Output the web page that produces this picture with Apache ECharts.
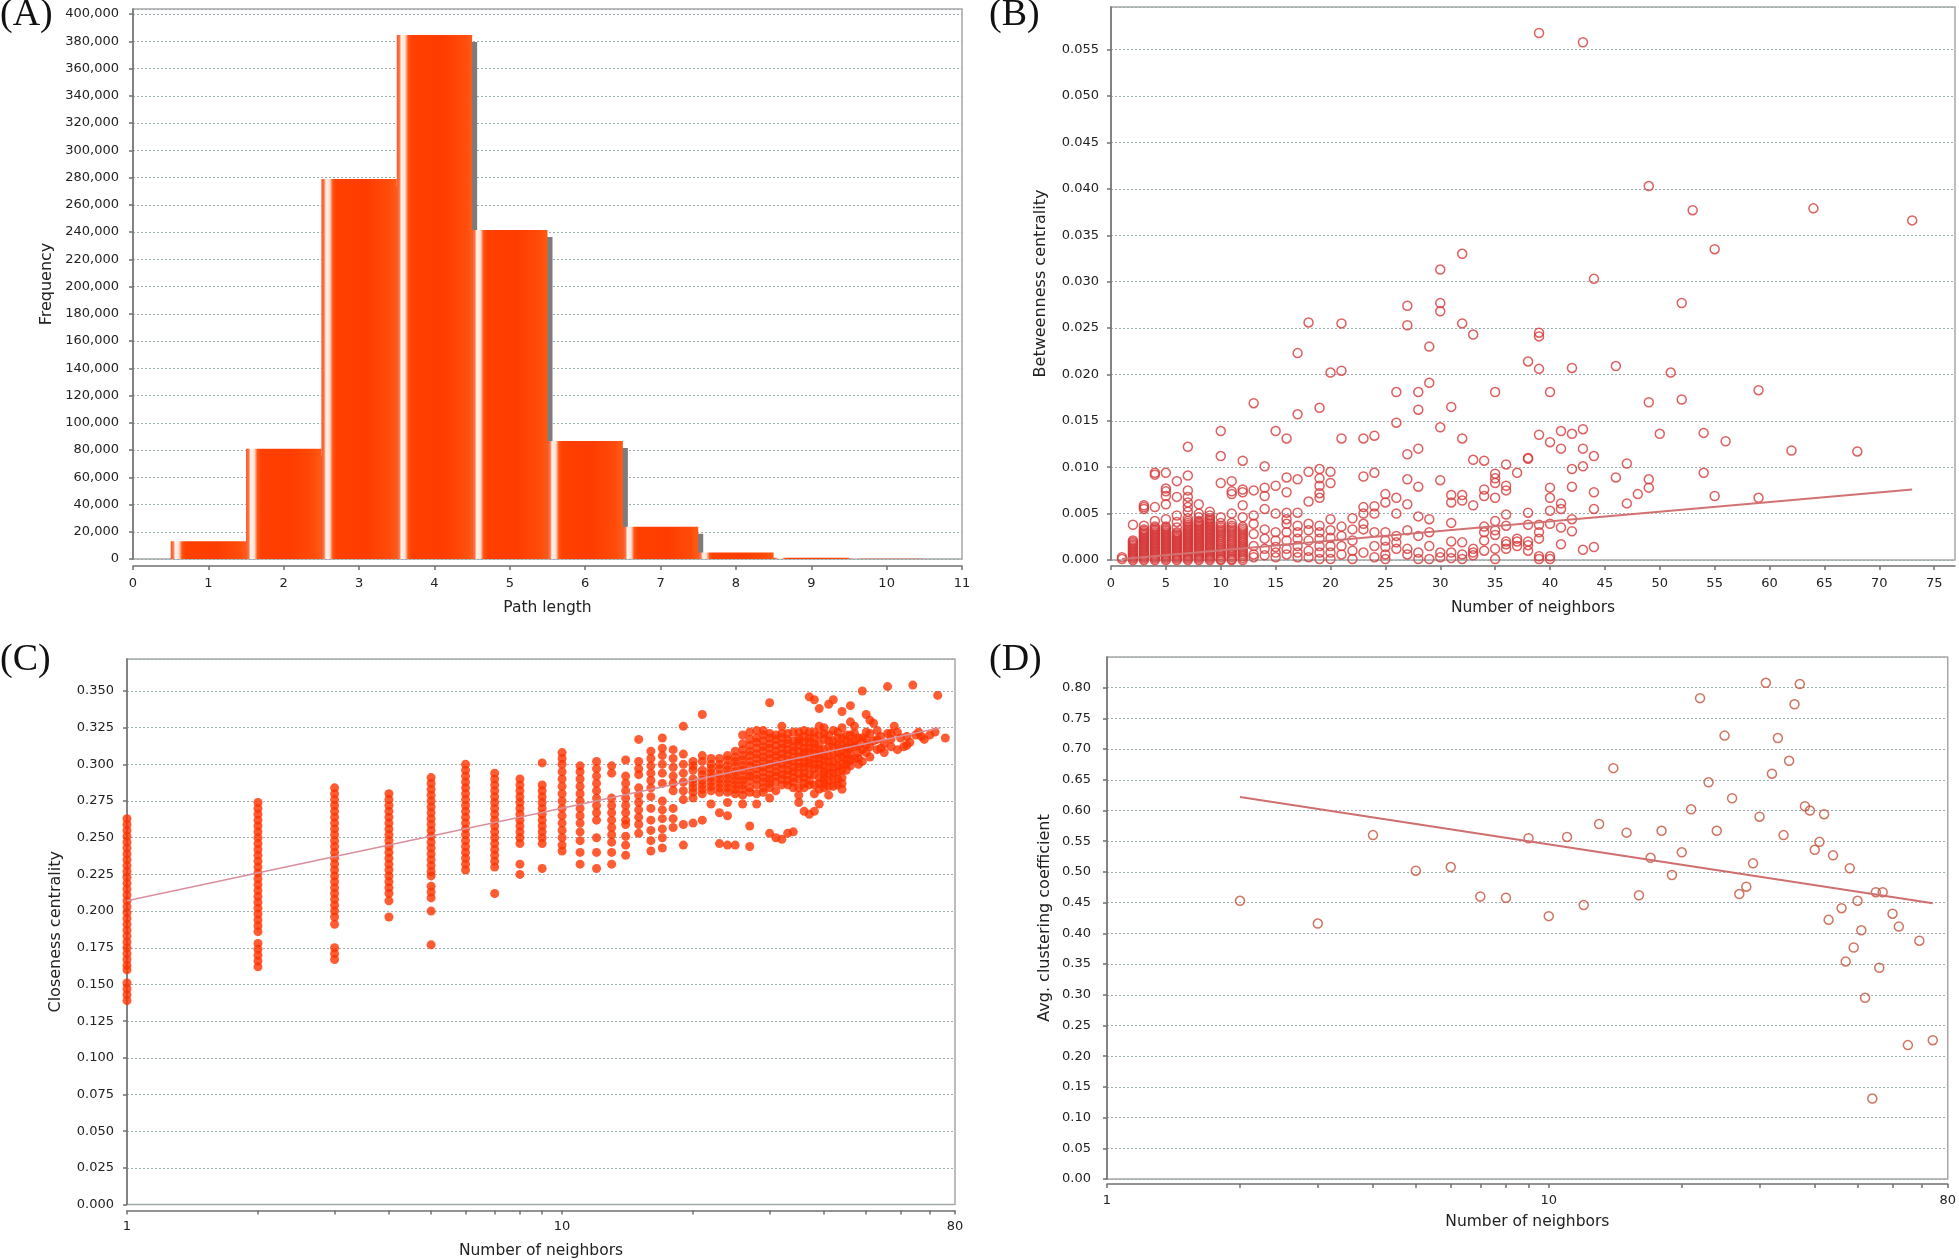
<!DOCTYPE html>
<html><head><meta charset="utf-8">
<script src="https://cdn.jsdelivr.net/npm/echarts/dist/echarts.min.js"></script>
<style>html,body{margin:0;padding:0;background:#fff}#c{width:1959px;height:1260px}</style>
</head><body><div id="c"></div><script>
// ---------- (A) Path length histogram ----------
const pathLengths = [1, 2, 3, 4, 5, 6, 7, 8, 9, 10];
const pathFreq = [13000, 81000, 279000, 384700, 241500, 86700, 23700, 4800, 900, 100];

// ---------- (B) Betweenness centrality vs number of neighbors ----------
const betweennessColumns = [
 [1,[0.0001,0.0003]],
 [2,[0.0000,0.0003,0.0006,0.0009,0.0012,0.0015,0.0018,0.0021,0.0038]],
 [3,[0.0000,0.0003,0.0006,0.0009,0.0012,0.0015,0.0018,0.0021,0.0024,0.0027,0.0030,0.0033,0.0037,0.0055,0.0057,0.0059]],
 [4,[0.0000,0.0003,0.0006,0.0009,0.0012,0.0015,0.0018,0.0021,0.0024,0.0027,0.0030,0.0033,0.0036,0.0042,0.0057,0.0092,0.0094]],
 [5,[0.0000,0.0003,0.0006,0.0009,0.0012,0.0015,0.0018,0.0021,0.0024,0.0027,0.0030,0.0033,0.0036,0.0044,0.0060,0.0069,0.0074,0.0077,0.0094]],
 [6,[0.0000,0.0003,0.0006,0.0009,0.0012,0.0015,0.0018,0.0021,0.0024,0.0027,0.0030,0.0035,0.0041,0.0048,0.0068,0.0085]],
 [7,[0.0000,0.0003,0.0006,0.0009,0.0012,0.0015,0.0018,0.0021,0.0024,0.0027,0.0030,0.0033,0.0036,0.0040,0.0045,0.0052,0.0057,0.0062,0.0068,0.0075,0.0091,0.0122]],
 [8,[0.0000,0.0003,0.0006,0.0009,0.0012,0.0015,0.0018,0.0021,0.0024,0.0027,0.0030,0.0033,0.0036,0.0039,0.0042,0.0046,0.0050,0.0060]],
 [9,[0.0000,0.0003,0.0006,0.0009,0.0012,0.0015,0.0018,0.0021,0.0024,0.0027,0.0030,0.0033,0.0036,0.0039,0.0042,0.0045,0.0048,0.0052]],
 [10,[0.0000,0.0003,0.0007,0.0011,0.0015,0.0019,0.0023,0.0027,0.0031,0.0035,0.0040,0.0046,0.0083,0.0112,0.0139]],
 [11,[0.0000,0.0003,0.0007,0.0011,0.0015,0.0019,0.0023,0.0027,0.0031,0.0035,0.0040,0.0050,0.0071,0.0074,0.0085]],
 [12,[0.0000,0.0004,0.0008,0.0012,0.0016,0.0020,0.0024,0.0028,0.0032,0.0036,0.0046,0.0059,0.0073,0.0076,0.0107]],
 [13,[0.0003,0.0006,0.0015,0.0028,0.0039,0.0048,0.0075,0.0169]],
 [14,[0.0005,0.0012,0.0023,0.0033,0.0055,0.0069,0.0078,0.0101]],
 [15,[0.0003,0.0008,0.0014,0.0021,0.0030,0.0050,0.0080,0.0139]],
 [16,[0.0006,0.0012,0.0021,0.0030,0.0039,0.0044,0.0051,0.0073,0.0089,0.0131]],
 [17,[0.0003,0.0008,0.0015,0.0023,0.0030,0.0037,0.0051,0.0087,0.0157,0.0223]],
 [18,[0.0003,0.0010,0.0021,0.0032,0.0039,0.0063,0.0095,0.0256]],
 [19,[0.0001,0.0008,0.0015,0.0023,0.0030,0.0037,0.0067,0.0072,0.0080,0.0088,0.0098,0.0164]],
 [20,[0.0001,0.0008,0.0015,0.0024,0.0032,0.0044,0.0083,0.0095,0.0202]],
 [21,[0.0006,0.0015,0.0026,0.0036,0.0131,0.0204,0.0255]],
 [22,[0.0001,0.0010,0.0021,0.0033,0.0045]],
 [23,[0.0008,0.0033,0.0039,0.0050,0.0057,0.0090,0.0131]],
 [24,[0.0003,0.0015,0.0030,0.0050,0.0058,0.0094,0.0134]],
 [25,[0.0001,0.0006,0.0014,0.0021,0.0030,0.0062,0.0071]],
 [26,[0.0012,0.0019,0.0026,0.0050,0.0067,0.0148,0.0181]],
 [27,[0.0006,0.0012,0.0032,0.0060,0.0087,0.0114,0.0253,0.0274]],
 [28,[0.0001,0.0008,0.0026,0.0047,0.0079,0.0120,0.0162,0.0181]],
 [29,[0.0001,0.0015,0.0030,0.0044,0.0191,0.0230]],
 [30,[0.0003,0.0008,0.0086,0.0143,0.0268,0.0277,0.0313]],
 [31,[0.0002,0.0008,0.0020,0.0040,0.0062,0.0070,0.0165]],
 [32,[0.0001,0.0006,0.0019,0.0064,0.0070,0.0131,0.0255,0.0330]],
 [33,[0.0005,0.0008,0.0012,0.0059,0.0108,0.0243]],
 [34,[0.0010,0.0021,0.0030,0.0036,0.0069,0.0076,0.0107]],
 [35,[0.0001,0.0012,0.0027,0.0032,0.0042,0.0067,0.0083,0.0088,0.0093,0.0181]],
 [36,[0.0012,0.0017,0.0020,0.0037,0.0049,0.0075,0.0080,0.0103]],
 [37,[0.0015,0.0020,0.0023,0.0094]],
 [38,[0.0010,0.0016,0.0020,0.0038,0.0051,0.0109,0.0110,0.0214]],
 [39,[0.0001,0.0004,0.0023,0.0030,0.0038,0.0135,0.0206,0.0241,0.0245,0.0568]],
 [40,[0.0001,0.0004,0.0039,0.0053,0.0067,0.0078,0.0127,0.0181]],
 [41,[0.0017,0.0035,0.0055,0.0061,0.0120,0.0139]],
 [42,[0.0031,0.0044,0.0079,0.0098,0.0136,0.0207]],
 [43,[0.0011,0.0101,0.0120,0.0141,0.0558]],
 [44,[0.0014,0.0055,0.0073,0.0112,0.0303]],
 [46,[0.0089,0.0209]],
 [47,[0.0061,0.0104]],
 [48,[0.0071]],
 [49,[0.0078,0.0087,0.0170,0.0403]],
 [50,[0.0136]],
 [51,[0.0202]],
 [52,[0.0173,0.0277]],
 [53,[0.0377]],
 [54,[0.0094,0.0137]],
 [55,[0.0069,0.0335]],
 [56,[0.0128]],
 [59,[0.0067,0.0183]],
 [62,[0.0118]],
 [64,[0.0379]],
 [68,[0.0117]],
 [73,[0.0366]]
];
// many low-degree nodes overlap near zero: extra points in the dense block
const betweennessDenseLow = [
 [2,[0.00015,0.00045,0.00075,0.00105,0.00135,0.00165,0.00195]],
 [3,[0.00015,0.00045,0.00075,0.00105,0.00135,0.00165,0.00195,0.00225,0.00255,0.00285,0.00315]],
 [4,[0.00015,0.00045,0.00075,0.00105,0.00135,0.00165,0.00195,0.00225,0.00255,0.00285,0.00315,0.00345]],
 [5,[0.00015,0.00045,0.00075,0.00105,0.00135,0.00165,0.00195,0.00225,0.00255,0.00285,0.00315,0.00345]],
 [6,[0.00015,0.00045,0.00075,0.00105,0.00135,0.00165,0.00195,0.00225,0.00255,0.00285]],
 [7,[0.00015,0.00045,0.00075,0.00105,0.00135,0.00165,0.00195,0.00225,0.00255,0.00285,0.00315,0.00345,0.0038,0.0042]],
 [8,[0.00015,0.00045,0.00075,0.00105,0.00135,0.00165,0.00195,0.00225,0.00255,0.00285,0.00315,0.00345,0.00375,0.00405]],
 [9,[0.00015,0.00045,0.00075,0.00105,0.00135,0.00165,0.00195,0.00225,0.00255,0.00285,0.00315,0.00345,0.00375,0.00405,0.00435]],
 [10,[0.0001,0.0005,0.0009,0.0013,0.0017,0.0021,0.0025,0.0029,0.0033,0.0037]],
 [11,[0.0001,0.0005,0.0009,0.0013,0.0017,0.0021,0.0025,0.0029,0.0033,0.0037]],
 [12,[0.0002,0.0006,0.0010,0.0014,0.0018,0.0022,0.0026,0.0030,0.0034]]
];
const betweennessTrend = [[1, 0.0001], [73, 0.0076]];

// ---------- (C) Closeness centrality vs number of neighbors ----------
const closenessColumns = [
 [1,[0.263,0.259,0.255,0.251,0.247,0.243,0.239,0.235,0.231,0.227,0.223,0.219,0.215,0.211,0.207,0.203,0.199,0.195,0.191,0.187,0.183,0.179,0.175,0.171,0.167,0.163,0.160,0.151,0.147,0.143,0.139]],
 [2,[0.274,0.270,0.266,0.262,0.258,0.254,0.250,0.246,0.242,0.238,0.234,0.230,0.226,0.222,0.218,0.214,0.210,0.206,0.202,0.198,0.194,0.190,0.186,0.178,0.174,0.170,0.166,0.162]],
 [3,[0.284,0.280,0.276,0.272,0.268,0.264,0.260,0.256,0.252,0.248,0.244,0.240,0.236,0.232,0.228,0.224,0.220,0.216,0.212,0.208,0.204,0.200,0.196,0.191,0.175,0.171,0.167]],
 [4,[0.280,0.276,0.272,0.268,0.264,0.260,0.256,0.252,0.248,0.244,0.240,0.236,0.232,0.228,0.224,0.220,0.216,0.212,0.207,0.196]],
 [5,[0.291,0.287,0.283,0.279,0.275,0.271,0.267,0.263,0.259,0.255,0.251,0.247,0.243,0.239,0.235,0.231,0.227,0.224,0.217,0.213,0.209,0.200,0.177]],
 [6,[0.300,0.296,0.292,0.288,0.284,0.280,0.276,0.272,0.268,0.264,0.260,0.256,0.252,0.248,0.244,0.240,0.236,0.232,0.228]],
 [7,[0.294,0.290,0.286,0.282,0.278,0.274,0.270,0.266,0.262,0.258,0.254,0.250,0.246,0.242,0.238,0.234,0.230,0.212]],
 [8,[0.290,0.286,0.282,0.278,0.274,0.270,0.266,0.262,0.258,0.254,0.250,0.246,0.232,0.225]],
 [9,[0.301,0.286,0.282,0.278,0.274,0.270,0.266,0.262,0.258,0.254,0.250,0.246,0.229]],
 [10,[0.308,0.304,0.300,0.295,0.290,0.285,0.280,0.275,0.270,0.265,0.260,0.255,0.250,0.245,0.241]],
 [11,[0.299,0.295,0.290,0.285,0.280,0.275,0.270,0.265,0.260,0.254,0.248,0.240,0.232]],
 [12,[0.302,0.297,0.292,0.287,0.282,0.277,0.272,0.267,0.262,0.250,0.240,0.229]],
 [13,[0.299,0.294,0.277,0.272,0.267,0.262,0.257,0.252,0.247,0.240,0.232]],
 [14,[0.303,0.292,0.287,0.282,0.277,0.272,0.267,0.262,0.259,0.251,0.245,0.238]],
 [15,[0.317,0.302,0.297,0.293,0.284,0.279,0.274,0.269,0.264,0.259,0.253]],
 [16,[0.309,0.304,0.299,0.294,0.289,0.284,0.278,0.270,0.262,0.255,0.248,0.241]],
 [17,[0.318,0.311,0.306,0.300,0.294,0.287,0.275,0.269,0.263,0.256,0.250,0.243]],
 [18,[0.310,0.304,0.298,0.292,0.287,0.282,0.270,0.263,0.257]],
 [19,[0.326,0.307,0.300,0.294,0.288,0.282,0.276,0.259,0.245]],
 [20,[0.302,0.296,0.290,0.284,0.277,0.260,0.299,0.287,0.281]],
 [21,[0.306,0.293,0.286,0.280]],
 [22,[0.300,0.294,0.288,0.282]],
 [23,[0.304,0.297,0.290,0.284]],
 [24,[0.306,0.299,0.293,0.287,0.281]],
 [25,[0.309,0.302,0.295,0.289,0.283]],
 [26,[0.314,0.306,0.299,0.292,0.286,0.279]],
 [27,[0.317,0.309,0.302,0.295,0.289,0.281]],
 [28,[0.315,0.307,0.300,0.293,0.286,0.280]],
 [29,[0.320,0.312,0.305,0.298,0.291,0.284]],
 [30,[0.321,0.314,0.307,0.300,0.293,0.287]],
 [31,[0.320,0.309,0.302,0.295,0.288,0.282]],
 [32,[0.321,0.314,0.307,0.300,0.293,0.286]],
 [33,[0.317,0.310,0.303,0.296,0.289]],
 [34,[0.322,0.312,0.305,0.298,0.291,0.284]],
 [35,[0.322,0.316,0.305,0.298,0.290,0.284]],
 [36,[0.323,0.315,0.308,0.301,0.294,0.287]],
 [37,[0.318,0.311,0.304,0.301,0.293,0.289]],
 [38,[0.322,0.314,0.307,0.300,0.297,0.286]],
 [39,[0.320,0.310,0.304,0.297,0.291,0.283]],
 [40,[0.325,0.317,0.306,0.299,0.293,0.287]],
 [41,[0.320,0.312,0.302,0.294,0.285]],
 [42,[0.316,0.307,0.298,0.290]],
 [43,[0.322,0.313,0.304,0.295,0.286]],
 [44,[0.318,0.309,0.300,0.291,0.287]],
 [45,[0.316,0.311,0.303,0.296]],
 [46,[0.320,0.315,0.307,0.299]],
 [47,[0.321,0.312,0.304]],
 [48,[0.313,0.304]],
 [49,[0.318,0.310,0.302]],
 [50,[0.317,0.308]],
 [51,[0.321,0.305]],
 [53,[0.317,0.310]],
 [55,[0.314]],
 [57,[0.321,0.312]],
 [60,[0.318]],
 [62,[0.313]],
 [67,[0.319]],
 [72,[0.322]],
 [76,[0.318]]
];
const closenessCloud = [
 [21,0.334],[30,0.342],[37,0.346],[38,0.344],[39,0.338],[41,0.341],[42,0.344],[44,0.336],[46,0.340],[49,0.350],[50,0.334],[51,0.330],[56,0.353],[64,0.354],[73,0.347],
 [47,0.326],[53,0.323],[56,0.321],[59,0.322],[62,0.319],[68,0.317],[59,0.310],[55,0.308],[51,0.312],[48,0.308],[47,0.316],[44,0.305],[43,0.318],[42,0.323],[44,0.325],[37,0.322],[35,0.318],[32,0.326],[29,0.323],[26,0.320],[27,0.322],[28,0.318],[28,0.323],[31,0.317],[33,0.314],[35,0.309],[36,0.305],[37,0.298],[38,0.293],[40,0.295],[41,0.289],[40,0.284],[41,0.279],[34,0.288],[36,0.284],[35,0.279],[35,0.274],[36,0.268],[37,0.266],[38,0.268],
 [30,0.277],[28,0.273],[26,0.273],[27,0.284],[24,0.274],[22,0.273],[23,0.267],[24,0.265],[23,0.246],[24,0.245],[25,0.245],[27,0.258],[27,0.244],[30,0.253],[31,0.250],[32,0.249],[33,0.253],[34,0.254],[21,0.262],[39,0.273],
 [21,0.302],[21,0.296],[21,0.289],[21,0.283],[22,0.304],[22,0.297],[22,0.291],[22,0.285],[23,0.300],[23,0.293],[23,0.287],[23,0.281],[24,0.303],[24,0.296],[24,0.290],[24,0.284],[25,0.305],[25,0.299],[25,0.292],[25,0.286],[25,0.280],[26,0.310],[26,0.303],[26,0.296],[26,0.289],[26,0.283],[27,0.313],[27,0.306],[27,0.299],[27,0.292],[28,0.311],[28,0.304],[28,0.297],[28,0.290],[29,0.316],[29,0.309],[29,0.302],[29,0.295],[29,0.288],[29,0.281],[30,0.318],[30,0.311],[30,0.304],[30,0.297],[30,0.290],[30,0.284],[31,0.313],[31,0.306],[31,0.299],[31,0.292],[32,0.318],[32,0.311],[32,0.304],[32,0.297],[32,0.290],[33,0.321],[33,0.307],[33,0.300],[33,0.293],[33,0.286],[34,0.316],[34,0.309],[34,0.302],[34,0.295],[35,0.313],[35,0.301],[35,0.294],[36,0.319],[36,0.311],[36,0.298],[36,0.291],[37,0.315],[37,0.308],[37,0.286],[38,0.318],[38,0.311],[38,0.304],[38,0.280],[39,0.326],[39,0.314],[39,0.307],[39,0.300],[39,0.287],[40,0.321],[40,0.310],[40,0.303],[40,0.290],[41,0.316],[41,0.306],[41,0.298],[42,0.312],[42,0.302],[42,0.294],[42,0.285],[43,0.308],[43,0.299],[43,0.290],[44,0.313],[44,0.296],[44,0.283],[45,0.320],[45,0.307],[45,0.300],[46,0.329],[46,0.311],[46,0.303],[48,0.318],[48,0.300],[50,0.322],[50,0.313],[52,0.328],[52,0.316],[54,0.319],[54,0.311],[57,0.317],[58,0.326],[61,0.312],[63,0.315],[65,0.320],[66,0.322],[70,0.320]
];
const closenessTrend = [[1, 0.207], [74, 0.325]];

// ---------- (D) Avg. clustering coefficient vs number of neighbors ----------
const clusteringPoints = [
 [2,0.453],[3,0.416],[4,0.560],[5,0.502],[6,0.508],[7,0.460],[8,0.458],[9,0.555],[10,0.428],[11,0.557],
 [12,0.446],[13,0.578],[14,0.669],[15,0.564],[16,0.462],[17,0.523],[18,0.567],[19,0.495],[20,0.532],[21,0.602],
 [22,0.783],[23,0.646],[24,0.567],[25,0.722],[26,0.620],[27,0.464],[28,0.476],[29,0.514],[30,0.590],[31,0.808],
 [32,0.660],[33,0.718],[34,0.560],[35,0.681],[36,0.773],[37,0.806],[38,0.607],[39,0.600],[40,0.536],[41,0.549],
 [42,0.594],[43,0.422],[44,0.527],[46,0.441],[47,0.354],[48,0.506],[49,0.377],[50,0.453],[51,0.405],[52,0.295],
 [54,0.131],[55,0.467],[56,0.344],[57,0.467],[60,0.432],[62,0.411],[65,0.218],[69,0.388],[74,0.226]
];
const clusteringTrend = [[2, 0.622], [74, 0.449]];

// ---------- tick values ----------
const logTickValues = [1,2,3,4,5,6,7,8,9,10,20,30,40,50,60,70,80];
const logLabelValues = [1, 10, 80];

// ---------- build ----------
function flattenColumns(cols) {
  const out = [];
  cols.forEach(([x, ys]) => ys.forEach(y => out.push([x, y])));
  return out;
}
const betweennessData = flattenColumns(betweennessColumns).concat(flattenColumns(betweennessDenseLow));
const closenessData = flattenColumns(closenessColumns).concat(closenessCloud);
const histData = pathLengths.map((x, i) => [x, pathFreq[i]]);

const FONT = 'DejaVu Sans';
const tickLabel = { fontFamily: FONT, fontSize: 13, color: '#222' };
const xNameStyle = { fontFamily: FONT, fontSize: 15.5, color: '#222' };
const yNameStyle = { fontFamily: FONT, fontSize: 16, color: '#222' };
const axisLineStyle = { color: '#707070', width: 1.5 };
const gridLineStyle = { color: '#9aacae', type: [2, 2], width: 1 };
const frame = { show: true, borderColor: '#a8a8a8', borderWidth: 1.5, backgroundColor: '#fff' };

function xVal(grid, opts) {
  return Object.assign({
    gridIndex: grid, type: 'value', nameLocation: 'middle', nameTextStyle: xNameStyle,
    axisLine: { show: true, onZero: false, lineStyle: axisLineStyle },
    axisTick: { show: true, length: 4, lineStyle: axisLineStyle },
    axisLabel: Object.assign({ margin: 11 }, tickLabel),
    splitLine: { show: false }
  }, opts);
}
function yVal(grid, opts, labelOpts) {
  return Object.assign({
    gridIndex: grid, type: 'value', nameLocation: 'middle', nameTextStyle: yNameStyle,
    axisLine: { show: true, onZero: false, lineStyle: axisLineStyle },
    axisTick: { show: true, length: 4, lineStyle: axisLineStyle },
    axisLabel: Object.assign({ showMaxLabel: false }, tickLabel, labelOpts),
    splitLine: { show: true, lineStyle: gridLineStyle }
  }, opts);
}

const barGradient = new echarts.graphic.LinearGradient(0, 0, 1, 0, [
  { offset: 0, color: '#ff5424' }, { offset: 0.035, color: '#ff7446' },
  { offset: 0.06, color: '#fff4ee' }, { offset: 0.11, color: '#ffe2d4' },
  { offset: 0.15, color: '#ff5418' }, { offset: 0.2, color: '#ff4000' },
  { offset: 0.6, color: '#ff3c00' }, { offset: 0.9, color: '#ff4c0a' },
  { offset: 1, color: '#ff5a18' }
]);

const chart = echarts.init(document.getElementById('c'), null, { renderer: 'canvas' });
chart.setOption({
  animation: false,
  backgroundColor: '#fff',
  grid: [
    Object.assign({ left: 133, top: 9, width: 829, height: 550 }, frame),
    Object.assign({ left: 1111, top: 7, width: 844, height: 553 }, frame),
    Object.assign({ left: 127, top: 659, width: 828, height: 545.6 }, frame),
    Object.assign({ left: 1107, top: 657, width: 847, height: 522 }, frame)
  ],
  xAxis: [
    xVal(0, { min: 0, max: 11, interval: 1, offset: 7, name: 'Path length', nameGap: 34 }),
    xVal(1, { min: 0, max: 76.9, interval: 5, offset: 6, name: 'Number of neighbors', nameGap: 34,
      axisLabel: Object.assign({ margin: 11, showMaxLabel: false }, tickLabel) }),
    xVal(2, { type: 'log', logBase: 10, min: 1, max: 80, offset: 6, name: 'Number of neighbors', nameGap: 32,
      axisTick: { show: true, length: 4, lineStyle: axisLineStyle, customValues: logTickValues },
      axisLabel: Object.assign({ margin: 10, customValues: logLabelValues }, tickLabel) }),
    xVal(3, { type: 'log', logBase: 10, min: 1, max: 80, offset: 5, name: 'Number of neighbors', nameGap: 30,
      axisTick: { show: true, length: 4, lineStyle: axisLineStyle, customValues: logTickValues },
      axisLabel: Object.assign({ margin: 10, customValues: logLabelValues }, tickLabel) })
  ],
  yAxis: [
    yVal(0, { min: 0, max: 403700, interval: 20000, name: 'Frequency', nameGap: 78 },
      { margin: 14, formatter: v => Math.round(v).toLocaleString('en-US') }),
    yVal(1, { min: 0, max: 0.0596, interval: 0.005, name: 'Betweenness centrality', nameGap: 62 },
      { margin: 12, formatter: v => v.toFixed(3) }),
    yVal(2, { min: 0, max: 0.3718, interval: 0.025, name: 'Closeness centrality', nameGap: 63 },
      { margin: 13, formatter: v => v.toFixed(3) }),
    yVal(3, { min: 0, max: 0.85, interval: 0.05, name: 'Avg. clustering coefficient', nameGap: 54 },
      { margin: 16, formatter: v => v.toFixed(2) })
  ],
  series: [
    {
      type: 'custom', xAxisIndex: 0, yAxisIndex: 0, data: histData,
      renderItem: function (params, api) {
        const x = api.value(0), y = api.value(1);
        const tl = api.coord([x - 0.5, y]);
        const br = api.coord([x + 0.5, 0]);
        const w = br[0] - tl[0], h = br[1] - tl[1];
        const sh = Math.max(0, h - 7);
        return {
          type: 'group', children: [
            { type: 'rect', shape: { x: tl[0] + 5, y: tl[1] + 7, width: w, height: sh }, style: { fill: '#7c7c7c' } },
            { type: 'rect', shape: { x: tl[0], y: tl[1], width: w, height: h }, style: { fill: barGradient } }
          ]
        };
      }
    },
    {
      type: 'scatter', xAxisIndex: 1, yAxisIndex: 1, data: betweennessData,
      symbol: 'circle', symbolSize: 9,
      itemStyle: { color: 'rgba(255,255,255,0)', borderColor: '#d63838', borderWidth: 1.5 }
    },
    {
      type: 'line', xAxisIndex: 1, yAxisIndex: 1, data: betweennessTrend,
      showSymbol: false, lineStyle: { color: '#d27272', width: 2 }
    },
    {
      type: 'scatter', xAxisIndex: 2, yAxisIndex: 2, data: closenessData,
      symbol: 'circle', symbolSize: 9,
      itemStyle: { color: '#ff3300' }
    },
    {
      type: 'line', xAxisIndex: 2, yAxisIndex: 2, data: closenessTrend,
      showSymbol: false, lineStyle: { color: '#d98f9c', width: 1.5 }
    },
    {
      type: 'scatter', xAxisIndex: 3, yAxisIndex: 3, data: clusteringPoints,
      symbol: 'circle', symbolSize: 9,
      itemStyle: { color: 'rgba(255,255,255,0)', borderColor: '#c4533b', borderWidth: 1.5 }
    },
    {
      type: 'line', xAxisIndex: 3, yAxisIndex: 3, data: clusteringTrend,
      showSymbol: false, lineStyle: { color: '#cf6f6f', width: 2 }
    }
  ],
  graphic: [
    { type: 'text', left: 0, top: -4, style: { text: '(A)', font: '38px "Liberation Serif"', fill: '#111' } },
    { type: 'text', left: 989, top: -4, style: { text: '(B)', font: '38px "Liberation Serif"', fill: '#111' } },
    { type: 'text', left: 0, top: 641, style: { text: '(C)', font: '38px "Liberation Serif"', fill: '#111' } },
    { type: 'text', left: 989, top: 641, style: { text: '(D)', font: '38px "Liberation Serif"', fill: '#111' } }
  ]
});
</script></body></html>
